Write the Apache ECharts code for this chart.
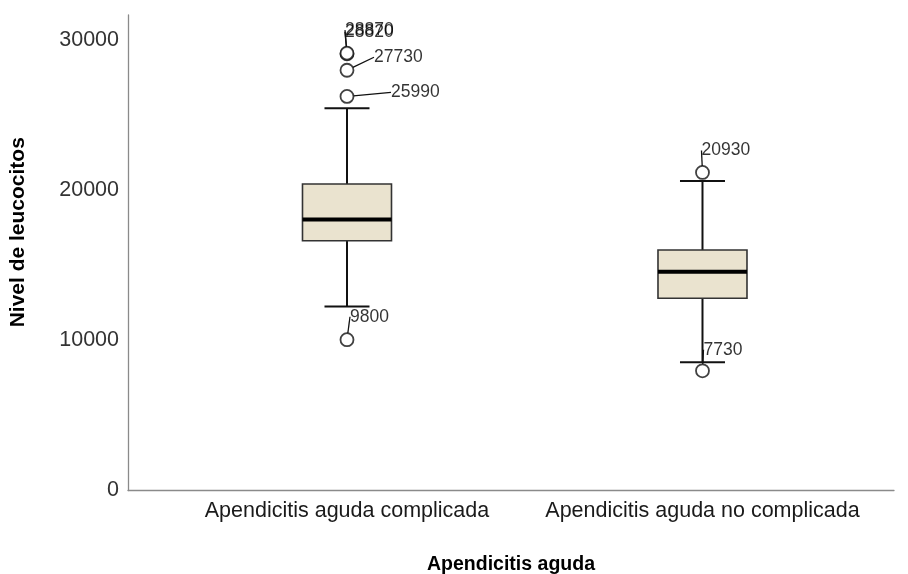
<!DOCTYPE html>
<html>
<head>
<meta charset="utf-8">
<script src="https://cdn.jsdelivr.net/npm/echarts@6/dist/echarts.min.js"></script>
<style>
html,body{margin:0;padding:0;background:#fff;}
#chart{width:908px;height:574px;}
</style>
</head>
<body>
<div id="chart"></div>
<script>
// ---- data ----
const categories = ['Apendicitis aguda complicada', 'Apendicitis aguda no complicada'];
// [min whisker, Q1, median, Q3, max whisker]
const boxComplicada = [12250, 16620, 18040, 20390, 25430];
const boxNoComplicada = [8530, 12790, 14560, 16000, 20590];
const outliersComplicada = [25990, 27730, 28820, 28870, 9800];
const outliersNoComplicada = [20930, 7730];
const yTicks = [0, 10000, 20000, 30000];
const xTitle = 'Apendicitis aguda';
const yTitle = 'Nivel de leucocitos';

// ---- layout constants (not data): label offsets from circle centre to label left/middle ----
const labelShift = {
  '0-25990': [44, -4], '0-27730': [27, -13], '0-28820': [-2, -22], '0-28870': [-2, -23],
  '0-9800': [3, -23], '1-20930': [-1, -22], '1-7730': [1, -21]
};

const boxes = [boxComplicada, boxNoComplicada].map((b, i) => [i + 1].concat(b));
const outlierPts = [];
[outliersComplicada, outliersNoComplicada].forEach((arr, i) => {
  arr.forEach(v => outlierPts.push({ value: [i + 1, v], key: i + '-' + v }));
});

const chart = echarts.init(document.getElementById('chart'), null, { renderer: 'canvas' });
const FONT = '"Liberation Sans", Arial, sans-serif';

chart.setOption({
  animation: false,
  backgroundColor: '#ffffff',
  grid: { left: 128, right: 14, top: 15, bottom: 83.5, containLabel: false, outerBoundsMode: 'none' },
  xAxis: {
    type: 'value', min: 0.384, max: 2.5387,
    name: xTitle, nameLocation: 'middle', nameGap: 64,
    nameTextStyle: { fontFamily: FONT, fontSize: 19.5, fontWeight: 'bold', color: '#000' },
    axisLine: { show: true, lineStyle: { color: '#8a8a8a', width: 1.3 } },
    axisTick: { show: false },
    splitLine: { show: false },
    axisLabel: {
      customValues: [1, 2],
      formatter: v => categories[Math.round(v) - 1] || '',
      fontFamily: FONT, fontSize: 21.5, color: '#1a1a1a', margin: 10
    }
  },
  yAxis: {
    type: 'value', min: 0, max: 31640,
    name: yTitle, nameLocation: 'middle', nameGap: 99, nameRotate: 90,
    nameTextStyle: { fontFamily: FONT, fontSize: 21, fontWeight: 'bold', color: '#000', padding: [0, 0, 0, 41] },
    axisLine: { show: true, lineStyle: { color: '#8a8a8a', width: 1.3 } },
    axisTick: { show: false },
    splitLine: { show: false },
    axisLabel: {
      customValues: yTicks,
      formatter: v => String(v),
      fontFamily: FONT, fontSize: 21.5, color: '#333', margin: 9
    }
  },
  series: [
    {
      type: 'custom',
      data: boxes,
      renderItem: function (params, api) {
        const x = api.value(0);
        const pMin = api.coord([x, api.value(1)]);
        const pQ1 = api.coord([x, api.value(2)]);
        const pMed = api.coord([x, api.value(3)]);
        const pQ3 = api.coord([x, api.value(4)]);
        const pMax = api.coord([x, api.value(5)]);
        const cx = pMed[0];
        const hw = 44.5, cw = 22.5;
        const lineStyle = { stroke: '#111', lineWidth: 2 };
        return {
          type: 'group',
          children: [
            { type: 'line', shape: { x1: cx, y1: pMin[1], x2: cx, y2: pQ1[1] }, style: lineStyle },
            { type: 'line', shape: { x1: cx, y1: pQ3[1], x2: cx, y2: pMax[1] }, style: lineStyle },
            { type: 'line', shape: { x1: cx - cw, y1: pMin[1], x2: cx + cw, y2: pMin[1] }, style: lineStyle },
            { type: 'line', shape: { x1: cx - cw, y1: pMax[1], x2: cx + cw, y2: pMax[1] }, style: lineStyle },
            { type: 'rect', shape: { x: cx - hw, y: pQ3[1], width: hw * 2, height: pQ1[1] - pQ3[1] },
              style: { fill: '#EAE3CF', stroke: '#333', lineWidth: 1.6 } },
            { type: 'line', shape: { x1: cx - hw, y1: pMed[1], x2: cx + hw, y2: pMed[1] },
              style: { stroke: '#000', lineWidth: 4 } }
          ]
        };
      }
    },
    {
      type: 'scatter',
      data: outlierPts,
      symbol: 'circle',
      symbolSize: 13,
      symbolOffset: [0, -3.5],
      itemStyle: { color: '#ffffff', borderColor: '#111', borderWidth: 1.8 },
      label: {
        show: true,
        position: 'right',
        formatter: p => String(p.value[1]),
        fontFamily: FONT, fontSize: 17.5, color: '#000'
      },
      labelLine: { show: true, lineStyle: { color: '#111', width: 1.3 } },
      labelLayout: function (params) {
        const d = outlierPts[params.dataIndex];
        const s = labelShift[d.key] || [5, -20];
        const r = params.rect;
        const lr = params.labelRect;
        const cx = r.x + r.width / 2;
        const cy = r.y + r.height / 2;
        return { x: cx + s[0], y: cy + s[1] - lr.height / 2, align: 'left', verticalAlign: 'top' };
      }
    }
  ]
});
</script>
</body>
</html>
